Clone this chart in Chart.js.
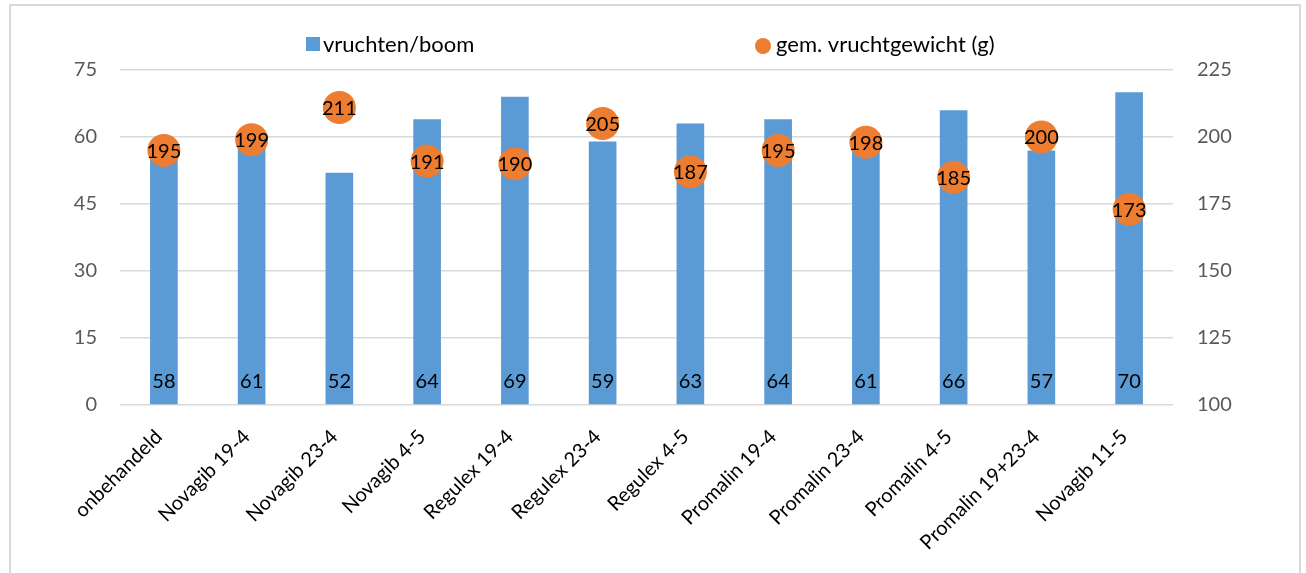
<!DOCTYPE html>
<html>
<head>
<meta charset="utf-8">
<script src="https://cdn.jsdelivr.net/npm/chart.js@4/dist/chart.umd.min.js"></script>
<style>
  html, body { margin: 0; padding: 0; background: #fff; overflow: hidden; }
  #frame {
    position: absolute; left: 9px; top: 4px;
    width: 1288px; height: 600px;
    border: 2px solid #d9d9d9;
  }
  #wrap { position: absolute; left: 0; top: 0; width: 1288px; height: 567px; }
</style>
</head>
<body>
<div id="frame"><div id="wrap"><canvas id="chart-fruit"></canvas></div></div>
<script>
var categories = ["onbehandeld", "Novagib 19-4", "Novagib 23-4", "Novagib 4-5", "Regulex 19-4", "Regulex 23-4",
    "Regulex 4-5", "Promalin 19-4", "Promalin 23-4", "Promalin 4-5", "Promalin 19+23-4", "Novagib 11-5"];
var vruchtenPerBoom = [58, 61, 52, 64, 69, 59, 63, 64, 61, 66, 57, 70];
var vruchtGewicht = [195, 199, 211, 191, 190, 205, 187, 195, 198, 185, 200, 173];
var leftTicks = [0, 15, 30, 45, 60, 75];
var rightTicks = [100, 125, 150, 175, 200, 225];

var FONT = "Lato";

// value labels: bar value near the base, point value centered on the dot
var valueLabels = {
    id: "valueLabels",
    afterDatasetsDraw: function (chart) {
        var ctx = chart.ctx;
        ctx.save();
        ctx.font = "20px " + FONT;
        ctx.fillStyle = "#000";
        ctx.textAlign = "center";
        ctx.textBaseline = "middle";
        chart.getDatasetMeta(0).data.forEach(function (el, i) {
            ctx.fillText(chart.data.datasets[0].data[i], el.x, el.base - 23);
        });
        chart.getDatasetMeta(1).data.forEach(function (el, i) {
            ctx.fillText(chart.data.datasets[1].data[i], el.x, el.y + 1);
        });
        ctx.restore();
    }
};

// legend drawn by hand, the two items sit far apart
var wideLegend = {
    id: "wideLegend",
    afterDraw: function (chart) {
        var ctx = chart.ctx;
        var ds = chart.data.datasets;
        ctx.save();
        ctx.font = "22px " + FONT;
        ctx.textBaseline = "middle";
        ctx.fillStyle = ds[0].backgroundColor;
        ctx.fillRect(295, 31, 14, 14);
        ctx.fillStyle = "#000";
        ctx.fillText(ds[0].label, 312, 39);
        ctx.fillStyle = ds[1].backgroundColor;
        ctx.beginPath();
        ctx.arc(752, 40, 8, 0, Math.PI * 2);
        ctx.fill();
        ctx.fillStyle = "#000";
        ctx.fillText(ds[1].label, 765, 39);
        ctx.restore();
    }
};

var ctx = document.getElementById("chart-fruit").getContext("2d");

new Chart(ctx, {
    type: "bar",
    data: {
        labels: categories,
        datasets: [
            {
                label: "vruchten/boom",
                backgroundColor: "#5b9bd5", // blue
                data: vruchtenPerBoom,
                yAxisID: "y",
                categoryPercentage: 1,
                barPercentage: 0.315,
                order: 2
            },
            {
                type: "line",
                label: "gem. vruchtgewicht (g)",
                backgroundColor: "#ed7d31", // orange
                borderColor: "#ed7d31",
                data: vruchtGewicht,
                yAxisID: "y1",
                showLine: false,
                pointRadius: 16.5,
                pointBorderWidth: 0,
                pointHoverRadius: 16.5,
                order: 1
            }
        ]
    },
    options: {
        responsive: true,
        maintainAspectRatio: false,
        animation: false,
        layout: { padding: { top: 64, left: 0, right: 0, bottom: 0 } },
        plugins: {
            legend: { display: false },
            tooltip: { enabled: false }
        },
        scales: {
            x: {
                grid: { display: false },
                border: { display: false },
                ticks: {
                    minRotation: 45,
                    maxRotation: 45,
                    autoSkip: false,
                    padding: 12,
                    labelOffset: -5,
                    font: { size: 20, family: FONT },
                    color: "#000"
                },
                afterFit: function (scale) { scale.height = 168; }
            },
            y: {
                position: "left",
                min: 0,
                max: 75,
                afterBuildTicks: function (scale) {
                    scale.ticks = leftTicks.map(function (v) { return { value: v }; });
                },
                grid: { color: "#d9d9d9", lineWidth: 1.5, drawTicks: false },
                border: { display: false },
                ticks: {
                    padding: 23,
                    font: { size: 20, family: FONT },
                    color: "#595959"
                },
                afterFit: function (scale) { scale.width = 109; }
            },
            y1: {
                position: "right",
                min: 100,
                max: 225,
                afterBuildTicks: function (scale) {
                    scale.ticks = rightTicks.map(function (v) { return { value: v }; });
                },
                grid: { display: false, drawTicks: false },
                border: { display: false },
                ticks: {
                    padding: 24,
                    font: { size: 20, family: FONT },
                    color: "#595959"
                },
                afterFit: function (scale) { scale.width = 126; }
            }
        }
    },
    plugins: [valueLabels, wideLegend]
});
</script>
</body>
</html>
